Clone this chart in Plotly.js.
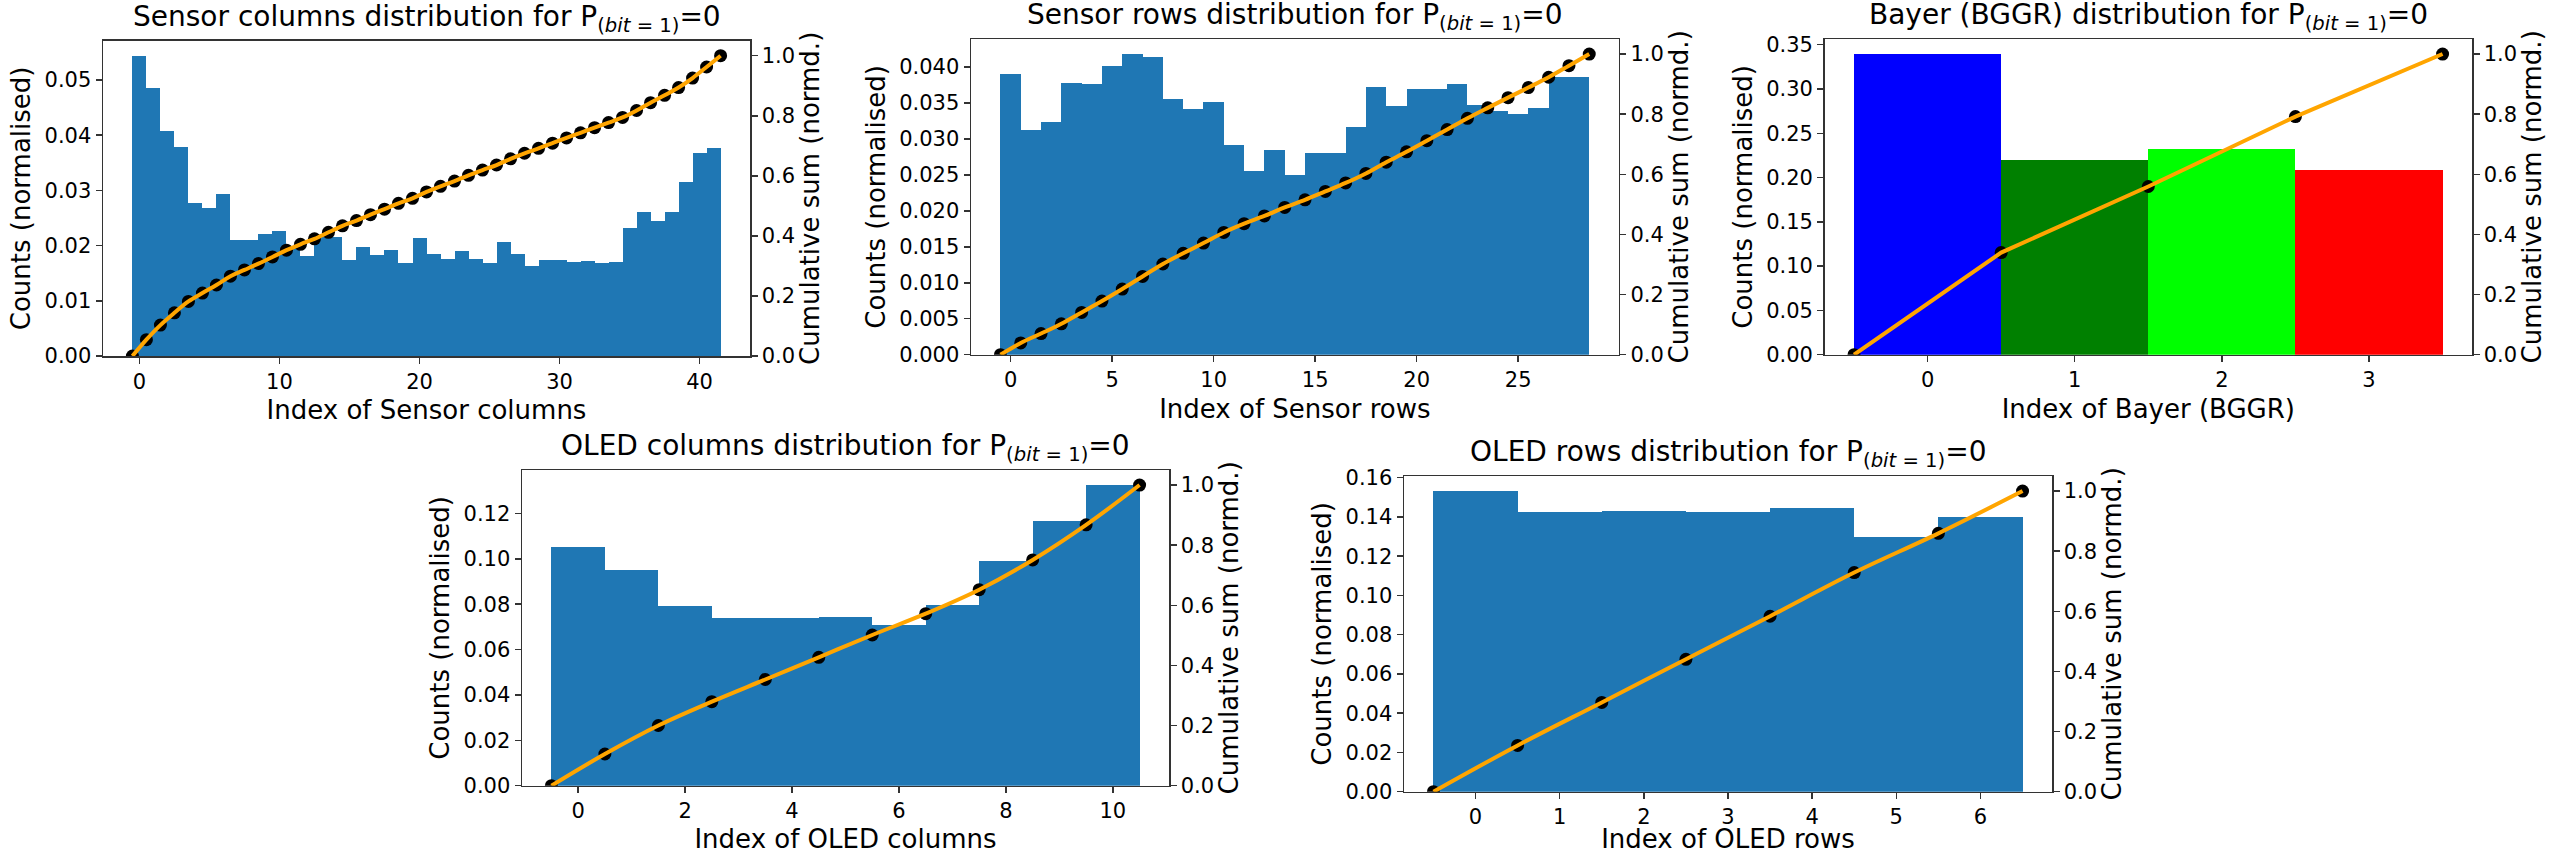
<!DOCTYPE html>
<html>
<head>
<meta charset="utf-8">
<script src="https://cdn.plot.ly/plotly-3.0.1.min.js"></script>
<style>
html,body{margin:0;padding:0;background:#ffffff;}
#chart{width:2552px;height:854px;}
</style>
</head>
<body>
<div id="chart"></div>
<script>
// ---------------- data ----------------
const sensorColumns = [0,1,2,3,4,5,6,7,8,9,10,11,12,13,14,15,16,17,18,19,20,21,22,23,24,25,26,27,28,29,30,31,32,33,34,35,36,37,38,39,40,41];
const sensorColumnCounts = [0.0544,0.0485,0.0408,0.0379,0.0278,0.0268,0.0293,0.0210,0.0210,0.0221,0.0226,
  0.0195,0.0181,0.0218,0.0216,0.0174,0.0198,0.0183,0.0192,0.0169,0.0213,
  0.0184,0.0176,0.0191,0.0175,0.0168,0.0206,0.0185,0.0163,0.0174,0.0174,
  0.0170,0.0172,0.0168,0.0171,0.0231,0.0260,0.0244,0.0260,0.0316,0.0367,0.0376];

const sensorRows = [0,1,2,3,4,5,6,7,8,9,10,11,12,13,14,15,16,17,18,19,20,21,22,23,24,25,26,27,28];
const sensorRowCounts = [0.0390,0.0313,0.0324,0.0378,0.0377,0.0401,0.0418,0.0414,0.0355,0.0342,
  0.0352,0.0292,0.0256,0.0285,0.0250,0.0281,0.0281,0.0317,0.0372,0.0346,
  0.0369,0.0369,0.0376,0.0347,0.0339,0.0335,0.0343,0.0386,0.0386];

const bayerIndex = [0,1,2,3];
const bayerCounts = [0.3395,0.2197,0.2325,0.2080];
const bayerColors = ['#0000ff','#008000','#00ff00','#ff0000'];

const oledColumns = [0,1,2,3,4,5,6,7,8,9,10];
const oledColumnCounts = [0.1054,0.0949,0.0794,0.0737,0.0739,0.0742,0.0709,0.0797,0.0991,0.1167,0.1325];

const oledRows = [0,1,2,3,4,5,6];
const oledRowCounts = [0.1532,0.1425,0.1428,0.1425,0.1447,0.1299,0.1401];

const xTitles = ['Index of Sensor columns','Index of Sensor rows','Index of Bayer (BGGR)','Index of OLED columns','Index of OLED rows'];
const plotTitles = ['Sensor columns','Sensor rows','Bayer (BGGR)','OLED columns','OLED rows'];

// cumulative sum (normalised) at bin edges, as in the original figure
function cumulative(idx, counts){
  const xs = [idx[0]-0.5];
  const ys = [0];
  let s = 0;
  const total = counts.reduce((a,b)=>a+b,0);
  for(let i=0;i<counts.length;i++){ s += counts[i]; xs.push(idx[i]+0.5); ys.push(s/total); }
  return {x:xs, y:ys};
}

// ---------------- layout geometry (pixels of the 2552x854 page) ----------------
const W = 2552, H = 854;
const panels = [
  {idx:sensorColumns, counts:sensorColumnCounts, color:'#1f77b4', px:[103,750],    py:[40.7,356],  xr:[-2.6,43.6],  xd:10, yd:0.01,  yf:'.2f', shape:'spline'},
  {idx:sensorRows,    counts:sensorRowCounts,    color:'#1f77b4', px:[971,1618.7], py:[39,354.7],  xr:[-1.95,29.95],xd:5,  yd:0.005, yf:'.3f', shape:'spline'},
  {idx:bayerIndex,    counts:bayerCounts,        color:bayerColors,px:[1824.6,2472],py:[39,354.7], xr:[-0.7,3.7],   xd:1,  yd:0.05,  yf:'.2f', shape:'linear'},
  {idx:oledColumns,   counts:oledColumnCounts,   color:'#1f77b4', px:[522,1169],   py:[470,785.7], xr:[-1.05,11.05],xd:2,  yd:0.02,  yf:'.2f', shape:'spline'},
  {idx:oledRows,      counts:oledRowCounts,      color:'#1f77b4', px:[1404,2052],  py:[476,791.7], xr:[-0.85,6.85], xd:1,  yd:0.02,  yf:'.2f', shape:'spline'}
];

const FONT = 'DejaVu Sans, sans-serif';
const TICKF = {family:FONT, size:21, color:'#000'};
const AXF = {family:FONT, size:26, color:'#000'};
const LINEC = '#333333';

const traces = [];
const layout = {
  width:W, height:H,
  margin:{l:0,r:0,t:0,b:0},
  paper_bgcolor:'#ffffff', plot_bgcolor:'#ffffff',
  showlegend:false,
  bargap:0,
  font:{family:FONT, color:'#000'},
  annotations:[]
};

panels.forEach((p,i)=>{
  const n = i+1;
  const xa = n===1 ? 'x' : 'x'+n;
  const yl = 2*n-1, yr = 2*n;
  const yla = yl===1 ? 'y' : 'y'+yl;
  const yra = 'y'+yr;
  const cum = cumulative(p.idx, p.counts);
  const ymax = Math.max(...p.counts)*1.05;

  traces.push({type:'bar', x:p.idx, y:p.counts, width:1, xaxis:xa, yaxis:yla,
    marker:{color:p.color, line:{width:0}}, hoverinfo:'x+y'});
  traces.push({type:'scatter', mode:'markers', x:cum.x, y:cum.y, xaxis:xa, yaxis:yra,
    marker:{color:'#000000', size:13}, cliponaxis:true});
  traces.push({type:'scatter', mode:'lines', x:cum.x, y:cum.y, xaxis:xa, yaxis:yra,
    line:{color:'#ffa500', width:4, shape:p.shape}, cliponaxis:true});

  const xdom = [p.px[0]/W, p.px[1]/W];
  const ydom = [1-p.py[1]/H, 1-p.py[0]/H];
  const xkey = n===1 ? 'xaxis' : 'xaxis'+n;
  const ylkey = yl===1 ? 'yaxis' : 'yaxis'+yl;
  const yrkey = 'yaxis'+yr;

  layout[xkey] = {domain:xdom, anchor:yla, range:p.xr, dtick:p.xd, tick0:0,
    showgrid:false, zeroline:false, showline:true, mirror:true, linecolor:LINEC, linewidth:1.5,
    ticks:'outside', ticklen:6, tickwidth:1.5, tickcolor:LINEC, tickfont:TICKF,
    title:{text:xTitles[i], font:AXF, standoff:8}, automargin:false};
  layout[ylkey] = {domain:ydom, anchor:xa, range:[0,ymax], dtick:p.yd, tick0:0, tickformat:p.yf,
    showgrid:false, zeroline:false, showline:true, linecolor:LINEC, linewidth:1.5,
    ticks:'outside', ticklen:6, tickwidth:1.5, tickcolor:LINEC, tickfont:TICKF,
    title:{text:'Counts (normalised)', font:AXF, standoff:6}, automargin:false};
  layout[yrkey] = {domain:ydom, anchor:xa, overlaying:yla, side:'right', range:[0,1.05], dtick:0.2, tick0:0, tickformat:'.1f',
    showgrid:false, zeroline:false, showline:true, linecolor:LINEC, linewidth:1.5,
    ticks:'outside', ticklen:6, tickwidth:1.5, tickcolor:LINEC, tickfont:TICKF,
    title:{text:'Cumulative sum (normd.)', font:AXF, standoff:6}, automargin:false};

  layout.annotations.push({xref:'paper', yref:'paper', x:(xdom[0]+xdom[1])/2, y:ydom[1]+2/H,
    xanchor:'center', yanchor:'bottom', showarrow:false,
    text:plotTitles[i]+' distribution for P<sub>(<i>bit</i> = 1)</sub>=0',
    font:{family:FONT, size:28, color:'#000'}});
});

Plotly.newPlot('chart', traces, layout, {staticPlot:true, displayModeBar:false});
</script>
</body>
</html>
